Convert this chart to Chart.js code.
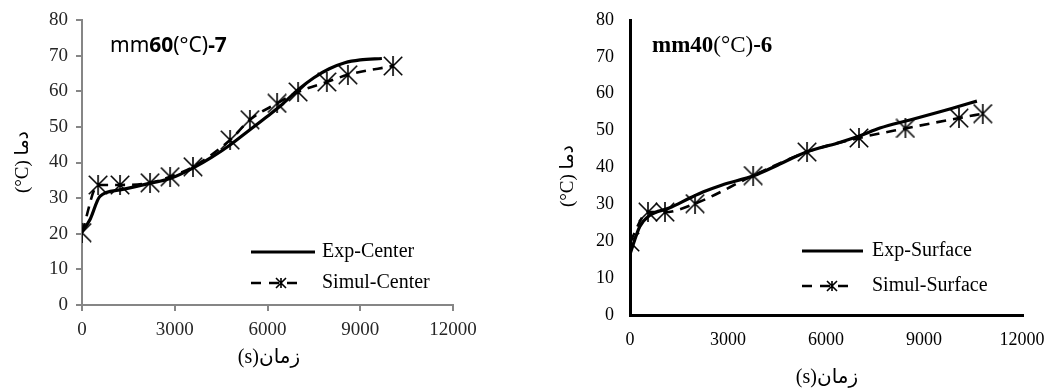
<!DOCTYPE html>
<html>
<head>
<meta charset="utf-8">
<script src="https://cdn.jsdelivr.net/npm/chart.js@4.4.0/dist/chart.umd.min.js"></script>
<style>
html,body{margin:0;padding:0;background:#fff;}
#wrap{position:relative;width:1049px;height:388px;overflow:hidden;}
canvas{position:absolute;top:0;}
#c1{left:0;}
#c2{left:525px;}
</style>
</head>
<body>
<div id="wrap">
<canvas id="c1" width="525" height="388"></canvas>
<canvas id="c2" width="524" height="388"></canvas>
</div>
<script>
// ---- data ----
const xTicks = [0, 3000, 6000, 9000, 12000];
const yTicks = [0, 10, 20, 30, 40, 50, 60, 70, 80];

const centerExpTime = [0, 260, 580, 1230, 2200, 2850, 3600, 4200, 4800, 5400, 6000, 6500, 7000, 7500, 8000, 8500, 9000, 9700];
const centerExpTemp = [20.5, 24, 30.5, 32.3, 34.2, 35.5, 38.5, 41.5, 45, 49, 53, 56.5, 60.5, 63.8, 66.3, 68, 68.8, 69.2];
const centerSimTime = [0, 520, 1230, 2200, 2850, 3590, 4790, 5430, 6310, 6990, 7920, 8600, 10060];
const centerSimTemp = [20.3, 33.7, 33.7, 34.3, 36, 38.8, 46.3, 52, 56.6, 59.8, 62.6, 64.6, 67.1];

const surfExpTime = [0, 300, 600, 1200, 1850, 2250, 2800, 3800, 4530, 5400, 6340, 7040, 7650, 8570, 9490, 10000, 10620];
const surfExpTemp = [16.5, 24, 27, 29, 31.8, 33.4, 35.2, 37.8, 40.7, 44.2, 46.6, 48.6, 50.7, 52.9, 55.1, 56.4, 58];
const surfSimTime = [0, 550, 1070, 1990, 3770, 5420, 7010, 8430, 10070, 10800];
const surfSimTemp = [19.8, 27.9, 27.9, 30.2, 37.8, 44.2, 48, 50.6, 53.4, 54.6];

const leftLabels = ['Exp-Center', 'Simul-Center'];
const rightLabels = ['Exp-Surface', 'Simul-Surface'];
const xTitle = '(s)زمان';
const yTitle = '(°C) دما';

// ---- helpers ----
function pairs(xs, ys){ return xs.map((x,i)=>({x:x, y:ys[i]})); }
function starCanvas(size, lw){
  const c = document.createElement('canvas');
  c.width = size; c.height = size;
  const g = c.getContext('2d');
  g.strokeStyle = '#000'; g.lineWidth = lw;
  const p = lw/2;
  g.beginPath();
  g.moveTo(p,p); g.lineTo(size-p,size-p);
  g.moveTo(size-p,p); g.lineTo(p,size-p);
  g.moveTo(size/2,0); g.lineTo(size/2,size);
  g.stroke();
  return c;
}
const bigStar = starCanvas(20, 1.6);

function drawStar(ctx, cx, cy, s, lw){
  ctx.save(); ctx.strokeStyle='#000'; ctx.lineWidth=lw;
  ctx.beginPath();
  ctx.moveTo(cx-s,cy-s); ctx.lineTo(cx+s,cy+s);
  ctx.moveTo(cx+s,cy-s); ctx.lineTo(cx-s,cy+s);
  ctx.moveTo(cx,cy-s); ctx.lineTo(cx,cy+s);
  ctx.stroke(); ctx.restore();
}

const decor = {
  id: 'decor',
  afterDraw(chart, args, o){
    const ctx = chart.ctx;
    ctx.save();
    ctx.fillStyle = '#000';
    ctx.textBaseline = 'middle';
    ctx.textAlign = 'left';
    let x = o.title.x;
    o.title.parts.forEach(p=>{
      ctx.font = (p.bold ? 'bold ' : '') + o.title.size + 'px ' + o.title.family;
      ctx.fillText(p.t, x, o.title.y);
      x += ctx.measureText(p.t).width;
    });
    ctx.font = o.axisFont;
    ctx.textAlign = 'center';
    ctx.fillText(xTitle, o.xt.x, o.xt.y);
    ctx.save();
    ctx.translate(o.yt.x, o.yt.y);
    ctx.rotate(-Math.PI/2);
    ctx.font = o.yAxisFont;
    ctx.fillText(yTitle, 0, 0);
    ctx.restore();
    const L = o.legend;
    ctx.font = '20px "Liberation Serif"';
    ctx.textAlign = 'left';
    ctx.lineWidth = 3.2; ctx.strokeStyle = '#000';
    ctx.beginPath(); ctx.moveTo(L.x0, L.y1); ctx.lineTo(L.x1, L.y1); ctx.stroke();
    ctx.fillText(L.labels[0], L.tx, L.y1);
    ctx.lineWidth = 2.6;
    ctx.setLineDash([10,8]);
    ctx.beginPath(); ctx.moveTo(L.x0, L.y2); ctx.lineTo(L.x0+54, L.y2); ctx.stroke();
    ctx.setLineDash([]);
    drawStar(ctx, L.x0+30, L.y2, 5, 1.6);
    ctx.fillText(L.labels[1], L.tx, L.y2);
    ctx.restore();
  }
};

function noPad(s){ s.paddingTop = 0; s.paddingBottom = 0; s.paddingLeft = 0; s.paddingRight = 0; }

function makeChart(id, cfg){
  const ctx = document.getElementById(id);
  return new Chart(ctx, {
    type: 'line',
    data: {
      datasets: [
        {
          data: pairs(cfg.expX, cfg.expY),
          borderColor: '#000', borderWidth: 3.2,
          pointRadius: 0, cubicInterpolationMode: 'monotone', fill: false
        },
        {
          data: pairs(cfg.simX, cfg.simY),
          borderColor: '#000', borderWidth: 2.6, borderDash: [10,7],
          pointStyle: bigStar, pointRadius: 10, pointHoverRadius: 10,
          cubicInterpolationMode: 'monotone', fill: false
        }
      ]
    },
    options: {
      responsive: false,
      animation: false,
      devicePixelRatio: 1,
      layout: { padding: cfg.padding },
      plugins: {
        legend: { display: false },
        tooltip: { enabled: false },
        decor: cfg.decor
      },
      scales: {
        x: {
          type: 'linear', min: xTicks[0], max: xTicks[xTicks.length-1],
          afterBuildTicks: s => { s.ticks = xTicks.map(v=>({value:v})); },
          afterFit: s => { s.height = cfg.xHeight; noPad(s); },
          ticks: { color: cfg.tickColor, font: { family: 'Liberation Serif', size: cfg.tickSize }, padding: cfg.xPad, maxRotation: 0,
                   callback: v => String(v) },
          grid: { display: cfg.ticks, drawOnChartArea: false, drawTicks: cfg.ticks, tickLength: 6, color: cfg.axisColor, lineWidth: cfg.axisWidth },
          border: { display: true, color: cfg.axisColor, width: cfg.axisWidth }
        },
        y: {
          type: 'linear', min: yTicks[0], max: yTicks[yTicks.length-1],
          afterBuildTicks: s => { s.ticks = yTicks.map(v=>({value:v})); },
          afterFit: s => { s.width = cfg.yWidth; noPad(s); },
          ticks: { color: cfg.tickColor, font: { family: 'Liberation Serif', size: cfg.tickSize }, padding: cfg.yPad,
                   callback: v => String(v) },
          grid: { display: cfg.ticks, drawOnChartArea: false, drawTicks: cfg.ticks, tickLength: 6, color: cfg.axisColor, lineWidth: cfg.axisWidth },
          border: { display: true, color: cfg.axisColor, width: cfg.axisWidth }
        }
      }
    },
    plugins: [decor]
  });
}

makeChart('c1', {
  expX: centerExpTime, expY: centerExpTemp, simX: centerSimTime, simY: centerSimTemp,
  padding: { left: 0, top: 20, right: 72, bottom: 0 },
  yWidth: 82, xHeight: 83, xPad: 8, yPad: 8, tickSize: 19,
  tickColor: '#262626', axisColor: '#868686', axisWidth: 2, ticks: true,
  decor: {
    title: { x: 110, y: 46, size: 21, family: '"Noto Sans"',
      parts: [{t:'mm'},{t:'60',bold:true},{t:'(°C)'},{t:'-7',bold:true}] },
    xt: { x: 269, y: 358 },
    yt: { x: 23, y: 162 },
    axisFont: '20px "Liberation Serif", "DejaVu Sans"',
    yAxisFont: '19px "Liberation Serif", "DejaVu Sans"',
    legend: { x0: 251, x1: 315, tx: 322, y1: 252, y2: 283, labels: leftLabels }
  }
});

makeChart('c2', {
  expX: surfExpTime, expY: surfExpTemp, simX: surfSimTime, simY: surfSimTemp,
  padding: { left: 0, top: 20, right: 27, bottom: 0 },
  yWidth: 105, xHeight: 73, xPad: 14, yPad: 16, tickSize: 18,
  tickColor: '#000', axisColor: '#000', axisWidth: 3, ticks: false,
  decor: {
    title: { x: 127, y: 46, size: 23, family: '"Liberation Serif"',
      parts: [{t:'mm40',bold:true},{t:'(°C)'},{t:'-6',bold:true}] },
    xt: { x: 302, y: 378 },
    yt: { x: 43, y: 176 },
    axisFont: '20px "Liberation Serif", "DejaVu Sans"',
    yAxisFont: '19px "Liberation Serif", "DejaVu Sans"',
    legend: { x0: 277, x1: 338, tx: 347, y1: 251, y2: 286, labels: rightLabels }
  }
});
</script>
</body>
</html>
